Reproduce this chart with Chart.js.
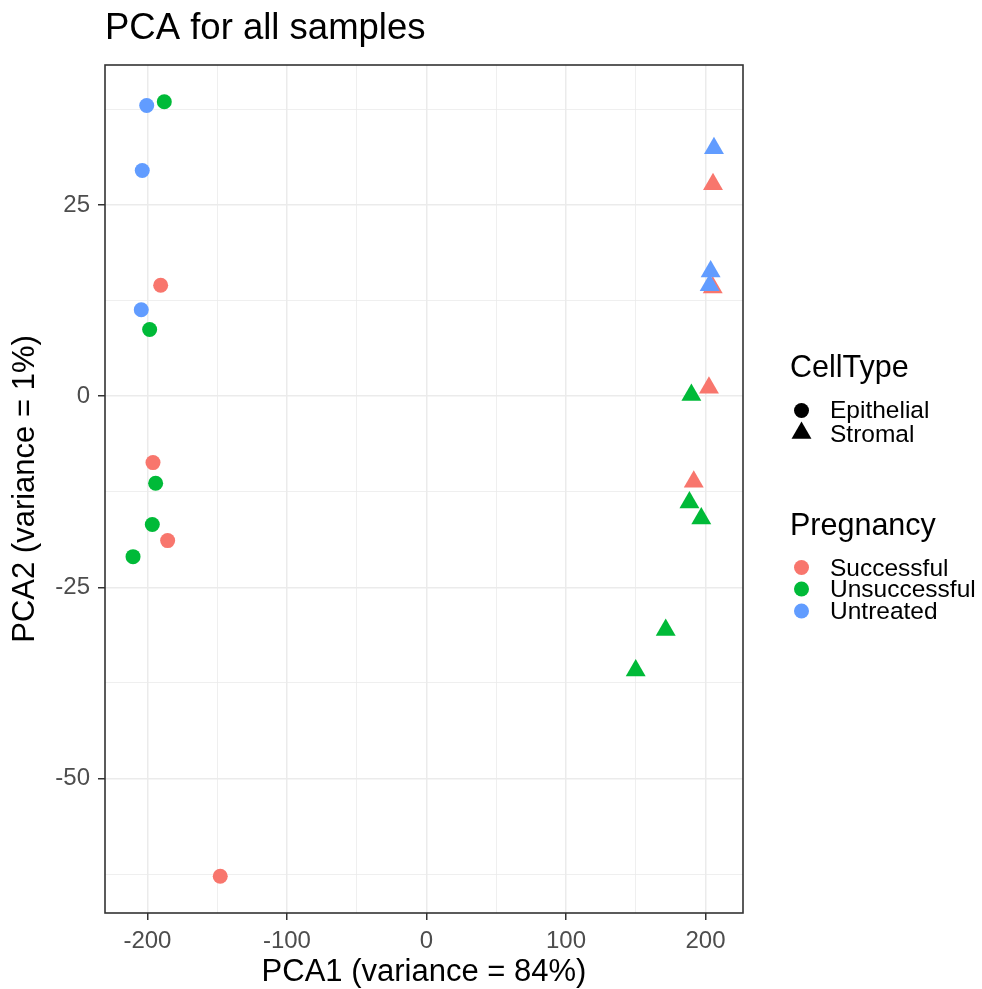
<!DOCTYPE html>
<html>
<head>
<meta charset="utf-8">
<title>PCA for all samples</title>
<script src="https://cdn.jsdelivr.net/npm/chart.js@4.4.1/dist/chart.umd.min.js"></script>
<style>
  html, body { margin: 0; padding: 0; background: #fff; }
</style>
</head>
<body>
<canvas id="pcaChart" width="982" height="989"></canvas>
<script>
// sample coordinates, grouped by cell type and pregnancy outcome
const epiSuccessfulX   = [-190.5, -196.0, -185.5, -147.8];
const epiSuccessfulY   = [14.5, -8.7, -18.9, -62.8];
const epiUnsuccessfulX = [-187.9, -198.4, -194.1, -196.5, -210.3];
const epiUnsuccessfulY = [38.5, 8.7, -11.4, -16.8, -21.0];
const epiUntreatedX    = [-200.5, -203.7, -204.4];
const epiUntreatedY    = [38.0, 29.5, 11.3];

const strSuccessfulX   = [205.4, 205.2, 202.5, 191.6];
const strSuccessfulY   = [27.7, 14.2, 1.1, -11.2];
const strUnsuccessfulX = [189.9, 188.5, 197.0, 171.5, 150.0];
const strUnsuccessfulY = [0.15, -13.9, -16.0, -30.6, -35.9];
const strUntreatedX    = [206.1, 203.7, 203.0];
const strUntreatedY    = [32.4, 16.3, 14.5];

// axis ticks: grid lines every half step, labels on the major ones
const xGrid = [-200, -150, -100, -50, 0, 50, 100, 150, 200];
const xLabels = [-200, -100, 0, 100, 200];
const yGrid = [-62.5, -50, -37.5, -25, -12.5, 0, 12.5, 25, 37.5];
const yLabels = [-50, -25, 0, 25];

const cellTypes = ['Epithelial', 'Stromal'];
const pregnancy = ['Successful', 'Unsuccessful', 'Untreated'];
const colours = { Successful: '#F8766D', Unsuccessful: '#00BA38', Untreated: '#619CFF' };

const FONT = "'Liberation Sans', Arial, Helvetica, sans-serif";
Chart.defaults.font.family = FONT;

const toPoints = (xs, ys) => xs.map((x, i) => ({ x: x, y: ys[i] }));

const makeSet = (label, xs, ys, group, shape) => ({
    label: label,
    data: toPoints(xs, ys),
    pointStyle: shape,
    pointRadius: shape === 'triangle' ? 11.5 : 7.5,
    pointHoverRadius: shape === 'triangle' ? 11.5 : 7.5,
    backgroundColor: colours[group],
    borderWidth: 0,
    showLine: false
});

// first dataset is drawn on top
const datasets = [
    makeSet('Stromal Untreated', strUntreatedX, strUntreatedY, 'Untreated', 'triangle'),
    makeSet('Epithelial Untreated', epiUntreatedX, epiUntreatedY, 'Untreated', 'circle'),
    makeSet('Stromal Unsuccessful', strUnsuccessfulX, strUnsuccessfulY, 'Unsuccessful', 'triangle'),
    makeSet('Epithelial Unsuccessful', epiUnsuccessfulX, epiUnsuccessfulY, 'Unsuccessful', 'circle'),
    makeSet('Stromal Successful', strSuccessfulX, strSuccessfulY, 'Successful', 'triangle'),
    makeSet('Epithelial Successful', epiSuccessfulX, epiSuccessfulY, 'Successful', 'circle')
];

const gridColour = '#EBEBEB';
const isMajor = (list, v) => list.includes(v);

// frame around the panel
const panelBorder = {
    id: 'panelBorder',
    afterDatasetsDraw(chart) {
        const { ctx, chartArea: a } = chart;
        ctx.save();
        ctx.strokeStyle = '#333333';
        ctx.lineWidth = 1.6;
        ctx.strokeRect(a.left, a.top, a.right - a.left, a.bottom - a.top);
        ctx.restore();
    }
};

// ggplot-style legends on the right
const sideLegend = {
    id: 'sideLegend',
    afterDraw(chart) {
        const ctx = chart.ctx;
        ctx.save();
        ctx.textAlign = 'left';
        ctx.textBaseline = 'alphabetic';
        ctx.fillStyle = '#000';

        ctx.font = '30.5px ' + FONT;
        ctx.fillText('CellType', 790, 377);
        ctx.font = '24.5px ' + FONT;
        ctx.fillText(cellTypes[0], 830, 417.5);
        ctx.fillText(cellTypes[1], 830, 442);

        ctx.beginPath();
        ctx.arc(801.5, 410.5, 7.5, 0, Math.PI * 2);
        ctx.fill();
        const r = 11.5, cx = 801.5, cy = 433;
        ctx.beginPath();
        ctx.moveTo(cx, cy - r);
        ctx.lineTo(cx + r * Math.sqrt(3) / 2, cy + r / 2);
        ctx.lineTo(cx - r * Math.sqrt(3) / 2, cy + r / 2);
        ctx.closePath();
        ctx.fill();

        ctx.font = '30.5px ' + FONT;
        ctx.fillText('Pregnancy', 790, 535);
        const rows = [567.5, 589, 611];
        pregnancy.forEach((p, i) => {
            ctx.fillStyle = colours[p];
            ctx.beginPath();
            ctx.arc(801.5, rows[i], 7.5, 0, Math.PI * 2);
            ctx.fill();
            ctx.fillStyle = '#000';
            ctx.font = '24.5px ' + FONT;
            ctx.fillText(p, 830, rows[i] + 8);
        });
        ctx.restore();
    }
};

new Chart(document.getElementById('pcaChart').getContext('2d'), {
    type: 'scatter',
    data: { datasets: datasets },
    options: {
        responsive: false,
        animation: false,
        layout: { padding: { top: 0, left: 0, right: 239, bottom: 0 } },
        plugins: {
            legend: { display: false },
            tooltip: { enabled: false },
            title: {
                display: true,
                text: 'PCA for all samples',
                align: 'start',
                fullSize: false,
                color: '#000',
                font: { size: 36.5, weight: 'normal' },
                padding: { top: 6.6, bottom: 14.6 }
            }
        },
        scales: {
            x: {
                type: 'linear',
                min: -230.4,
                max: 226.9,
                afterBuildTicks: axis => { axis.ticks = xGrid.map(v => ({ value: v })); },
                afterFit: axis => { axis.height = 76; },
                border: { display: false },
                grid: {
                    color: c => gridColour,
                    lineWidth: c => isMajor(xLabels, c.tick.value) ? 1.5 : 0.8,
                    tickColor: c => isMajor(xLabels, c.tick.value) ? '#333333' : 'rgba(0,0,0,0)',
                    tickLength: 7,
                    tickWidth: 1.5
                },
                ticks: {
                    autoSkip: false,
                    maxRotation: 0,
                    padding: 7,
                    color: '#4D4D4D',
                    font: { size: 24 },
                    callback: v => isMajor(xLabels, v) ? String(v) : ''
                },
                title: {
                    display: true,
                    text: 'PCA1 (variance = 84%)',
                    color: '#000',
                    font: { size: 31, lineHeight: 1.05 },
                    padding: { top: 0, bottom: 0 }
                }
            },
            y: {
                type: 'linear',
                min: -67.6,
                max: 43.3,
                afterBuildTicks: axis => { axis.ticks = yGrid.map(v => ({ value: v })); },
                afterFit: axis => { axis.width = 105; },
                border: { display: false },
                grid: {
                    color: c => gridColour,
                    lineWidth: c => isMajor(yLabels, c.tick.value) ? 1.5 : 0.8,
                    tickColor: c => isMajor(yLabels, c.tick.value) ? '#333333' : 'rgba(0,0,0,0)',
                    tickLength: 7,
                    tickWidth: 1.5
                },
                ticks: {
                    autoSkip: false,
                    padding: 8,
                    color: '#4D4D4D',
                    font: { size: 24 },
                    callback: v => isMajor(yLabels, v) ? String(v) : ''
                },
                title: {
                    display: true,
                    text: 'PCA2 (variance = 1%)',
                    color: '#000',
                    font: { size: 31 },
                    padding: { top: 7.3, bottom: 0 }
                }
            }
        }
    },
    plugins: [panelBorder, sideLegend]
});
</script>
</body>
</html>
